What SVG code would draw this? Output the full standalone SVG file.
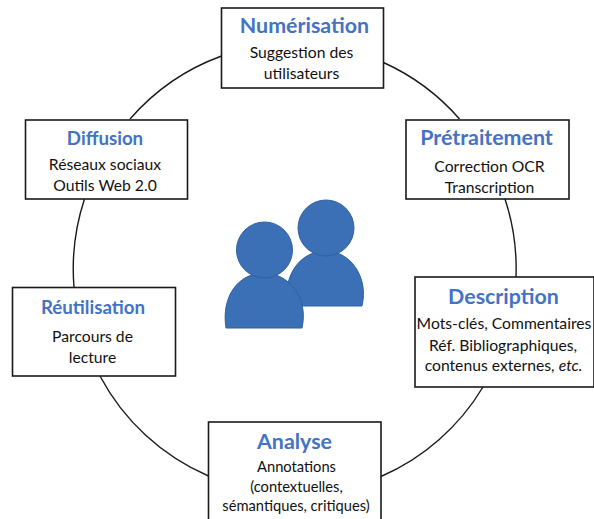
<svg xmlns="http://www.w3.org/2000/svg" width="594" height="519" viewBox="0 0 594 519">
<style>
.box{fill:#fff;stroke:#1a1a1a;stroke-width:1.6}
.t{font-family:Lato,"Liberation Sans",sans-serif;font-weight:700;font-size:21.4px;fill:#4472c4;text-anchor:middle}
.t2{font-size:18.7px}
.s{font-family:Lato,"Liberation Sans",sans-serif;font-size:15.7px;fill:#111;text-anchor:middle}
.s2{font-size:14.7px}
.c{fill:none;stroke:#1a1a1a;stroke-width:1.4}
.p{fill:#3b70b6;stroke:#31609c;stroke-width:1}
</style>
<rect width="594" height="519" fill="#fff"/>
<g id="connectors">
<path class="c" d="M383.500 62.500A222 222 0 0 1 459.500 119"/>
<path class="c" d="M505 199A222 222 0 0 1 516 277"/>
<path class="c" d="M483 387A222 222 0 0 1 381 476.500"/>
<path class="c" d="M208.500 476A222 222 0 0 1 100 376"/>
<path class="c" d="M74 287A222 222 0 0 1 84.500 199"/>
<path class="c" d="M130 119A222 222 0 0 1 221.500 56"/>
</g>
<g id="people">
<path class="p" d="M287 306C283 275 300 251 326 251C350 251 369 277 362 306Z"/>
<circle class="p" cx="326" cy="228" r="28"/>
<path class="p" d="M226 328C221 297 238 273 264 273C288 273 309 297 302 328Z"/>
<circle class="p" cx="264.500" cy="250" r="28"/>
</g>
<g id="numerisation">
<rect class="box" x="221.500" y="8" width="162" height="80"/>
<text class="t" x="304.500" y="33">Numérisation</text>
<text class="s" x="301.500" y="58">Suggestion des</text>
<text class="s" x="301.500" y="79">utilisateurs</text>
</g>
<g id="pretraitement">
<rect class="box" x="406" y="120" width="163" height="79"/>
<text class="t" x="486.500" y="145">Prétraitement</text>
<text class="s" x="489.500" y="172">Correction OCR</text>
<text class="s" x="489.500" y="193">Transcription</text>
</g>
<g id="description">
<rect class="box" x="415" y="277" width="179" height="110"/>
<text class="t" x="503.500" y="304">Description</text>
<text class="s" x="504" y="329">Mots-clés, Commentaires</text>
<text class="s" x="503" y="351">Réf. Bibliographiques,</text>
<text class="s" x="503.500" y="371">contenus externes, <tspan font-style="italic">etc.</tspan></text>
</g>
<g id="analyse">
<rect class="box" x="208.500" y="422" width="172.500" height="110"/>
<text class="t" x="294.500" y="449">Analyse</text>
<text class="s s2" x="296.500" y="472">Annotations</text>
<text class="s s2" x="296.500" y="492">(contextuelles,</text>
<text class="s s2" x="296" y="511">sémantiques, critiques)</text>
</g>
<g id="reutilisation">
<rect class="box" x="12.500" y="287.500" width="163" height="88.500"/>
<text class="t t2" x="93" y="314">Réutilisation</text>
<text class="s" x="92.500" y="342">Parcours de</text>
<text class="s" x="92.500" y="363">lecture</text>
</g>
<g id="diffusion">
<rect class="box" x="25.500" y="120" width="162" height="79"/>
<text class="t t2" x="105" y="145">Diffusion</text>
<text class="s" x="105" y="170">Réseaux sociaux</text>
<text class="s" x="105" y="191">Outils Web 2.0</text>
</g>
</svg>
